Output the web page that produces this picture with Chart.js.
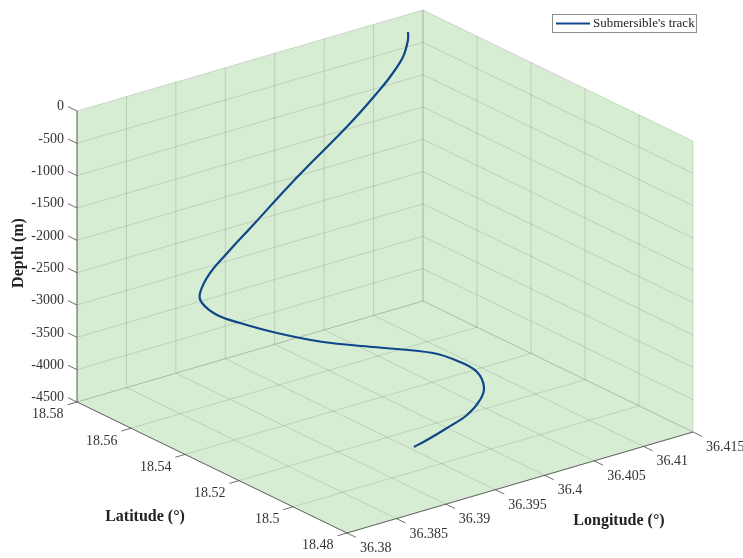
<!DOCTYPE html>
<html lang="en">
<head>
    <meta charset="UTF-8">
    <title>Submersible's track</title>
    <script src="https://cdn.jsdelivr.net/npm/chart.js"></script>
    <style>
        body { margin: 0; background: #fff; }
        #wrap { width: 743px; height: 558px; }
    </style>
</head>
<body>
    <div id="wrap"><canvas id="trackChart" width="743" height="558"></canvas></div>

    <script>
        // axis ticks
        const lonTicks = [36.38, 36.385, 36.39, 36.395, 36.4, 36.405, 36.41, 36.415];
        const latTicks = [18.48, 18.5, 18.52, 18.54, 18.56, 18.58];
        const depthTicks = [0, -500, -1000, -1500, -2000, -2500, -3000, -3500, -4000, -4500];

        // track
        const trackLon = [36.41119, 36.41054, 36.40889, 36.40665, 36.40477, 36.40186, 36.39912, 36.39576,
            36.39295, 36.3889, 36.3857, 36.38295, 36.38083, 36.38016, 36.3805, 36.38211,
            36.38505, 36.3891, 36.39409, 36.40008, 36.40203, 36.40278, 36.40209, 36.40082, 36.39903,
            36.39726, 36.39558, 36.39458];
        const trackLat = [18.5716, 18.56923, 18.56504, 18.56166, 18.55957, 18.5567, 18.55483, 18.55251,
            18.55037, 18.54667, 18.54421, 18.54155, 18.53747, 18.53429, 18.52996, 18.52736,
            18.52441, 18.52222, 18.52198, 18.52168, 18.51882, 18.51525, 18.51015, 18.50698, 18.50522,
            18.50615, 18.50742, 18.50859];
        const trackDepth = [0, -47, -151, -292, -413, -596, -792, -1012, -1199, -1454, -1679, -1858,
            -1990, -2050, -2163, -2306, -2532, -2808, -3103, -3457, -3625, -3741, -3839, -3919, -4035,
            -4176, -4313, -4400];
        const seriesName = "Submersible's track";

        // box limits
        const lonMin = lonTicks[0], lonMax = lonTicks[lonTicks.length - 1];
        const latMin = latTicks[0], latMax = latTicks[latTicks.length - 1];
        const depMin = depthTicks[depthTicks.length - 1], depMax = depthTicks[0];

        // view: front corner + one vector per axis (oblique view, like matlab's 3d box)
        const O = { x: 347, y: 533 };
        const vLon = { x: 346, y: -101 };
        const vLat = { x: -270, y: -131 };
        const vDep = { x: 0, y: -291 };

        function project(lon, lat, dep) {
            const u = (lon - lonMin) / (lonMax - lonMin);
            const v = (lat - latMin) / (latMax - latMin);
            const w = (dep - depMin) / (depMax - depMin);
            return {
                x: O.x + u * vLon.x + v * vLat.x + w * vDep.x,
                y: O.y + u * vLon.y + v * vLat.y + w * vDep.y
            };
        }

        const trackPoints = trackLon.map((lon, i) => project(lon, trackLat[i], trackDepth[i]));

        const WALL = '#d7edd3';
        const GRID = 'rgba(38,38,38,0.15)';
        const AXIS = 'rgba(60,60,60,0.75)';
        const TEXT = '#333';
        const BLUE = '#0f468a';

        function unit(v) {
            const l = Math.hypot(v.x, v.y);
            return { x: v.x / l, y: v.y / l };
        }

        const box3d = {
            id: 'box3d',
            beforeDatasetsDraw(chart) {
                const ctx = chart.ctx;
                const sx = chart.scales.x, sy = chart.scales.y;
                const P = (lon, lat, dep) => {
                    const p = project(lon, lat, dep);
                    return { x: sx.getPixelForValue(p.x), y: sy.getPixelForValue(p.y) };
                };
                const poly = (pts) => {
                    ctx.beginPath();
                    pts.forEach((p, i) => i ? ctx.lineTo(p.x, p.y) : ctx.moveTo(p.x, p.y));
                    ctx.closePath();
                    ctx.fill();
                };
                const line = (a, b) => {
                    ctx.beginPath();
                    ctx.moveTo(a.x, a.y);
                    ctx.lineTo(b.x, b.y);
                    ctx.stroke();
                };

                ctx.save();
                // panes
                ctx.fillStyle = WALL;
                poly([P(lonMin, latMin, depMin), P(lonMax, latMin, depMin), P(lonMax, latMax, depMin), P(lonMin, latMax, depMin)]);
                poly([P(lonMin, latMax, depMin), P(lonMax, latMax, depMin), P(lonMax, latMax, depMax), P(lonMin, latMax, depMax)]);
                poly([P(lonMax, latMin, depMin), P(lonMax, latMax, depMin), P(lonMax, latMax, depMax), P(lonMax, latMin, depMax)]);

                // grid
                ctx.strokeStyle = GRID;
                ctx.lineWidth = 1;
                lonTicks.forEach(t => {
                    line(P(t, latMin, depMin), P(t, latMax, depMin));
                    line(P(t, latMax, depMin), P(t, latMax, depMax));
                });
                latTicks.forEach(t => {
                    line(P(lonMin, t, depMin), P(lonMax, t, depMin));
                    line(P(lonMax, t, depMin), P(lonMax, t, depMax));
                });
                depthTicks.forEach(t => {
                    line(P(lonMin, latMax, t), P(lonMax, latMax, t));
                    line(P(lonMax, latMax, t), P(lonMax, latMin, t));
                });

                // axis lines
                ctx.strokeStyle = AXIS;
                line(P(lonMin, latMax, depMin), P(lonMin, latMax, depMax));
                line(P(lonMin, latMax, depMin), P(lonMin, latMin, depMin));
                line(P(lonMin, latMin, depMin), P(lonMax, latMin, depMin));

                // ticks + labels
                const tl = 10;
                const dLat = unit(vLat);
                const dLonNeg = unit({ x: -vLon.x, y: -vLon.y });
                const dLatNeg = unit({ x: -vLat.x, y: -vLat.y });
                ctx.fillStyle = TEXT;
                ctx.font = '14px "Liberation Serif", "Times New Roman", serif';

                ctx.textAlign = 'right';
                ctx.textBaseline = 'middle';
                depthTicks.forEach(t => {
                    const a = P(lonMin, latMax, t);
                    const b = { x: a.x + dLat.x * tl, y: a.y + dLat.y * tl };
                    line(a, b);
                    ctx.fillText(String(t), b.x - 4, b.y);
                });
                latTicks.forEach(t => {
                    const a = P(lonMin, t, depMin);
                    const b = { x: a.x + dLonNeg.x * tl, y: a.y + dLonNeg.y * tl };
                    line(a, b);
                    ctx.fillText(String(t), b.x - 4, b.y + 10);
                });
                ctx.textAlign = 'left';
                lonTicks.forEach(t => {
                    const a = P(t, latMin, depMin);
                    const b = { x: a.x + dLatNeg.x * tl, y: a.y + dLatNeg.y * tl };
                    line(a, b);
                    ctx.fillText(String(t), b.x + 4, b.y + 11);
                });

                // axis titles
                ctx.font = 'bold 16px "Liberation Serif", "Times New Roman", serif';
                ctx.textAlign = 'center';
                ctx.fillStyle = '#222';
                ctx.fillText('Latitude (°)', 145, 517);
                ctx.fillText('Longitude (°)', 619, 521);
                ctx.save();
                ctx.translate(19, 253);
                ctx.rotate(-Math.PI / 2);
                ctx.fillText('Depth (m)', 0, 0);
                ctx.restore();
                ctx.restore();
            },
            afterDatasetsDraw(chart) {
                const ctx = chart.ctx;
                ctx.save();
                ctx.fillStyle = '#fff';
                ctx.strokeStyle = '#8c8c8c';
                ctx.lineWidth = 1;
                ctx.fillRect(552, 14, 144, 18);
                ctx.strokeRect(552.5, 14.5, 144, 18);
                ctx.strokeStyle = BLUE;
                ctx.lineWidth = 2.2;
                ctx.beginPath();
                ctx.moveTo(556, 23.5);
                ctx.lineTo(590, 23.5);
                ctx.stroke();
                ctx.fillStyle = '#222';
                ctx.font = '13px "Liberation Serif", "Times New Roman", serif';
                ctx.textAlign = 'left';
                ctx.textBaseline = 'middle';
                ctx.fillText(seriesName, 593, 24);
                ctx.restore();
            }
        };

        const chart = new Chart(document.getElementById('trackChart').getContext('2d'), {
            type: 'scatter',
            data: {
                datasets: [{
                    label: seriesName,
                    data: trackPoints,
                    showLine: true,
                    borderColor: BLUE,
                    borderWidth: 2.2,
                    pointRadius: 0,
                    tension: 0.35,
                    fill: false,
                    clip: false
                }]
            },
            options: {
                responsive: false,
                animation: false,
                layout: { padding: 0 },
                plugins: {
                    legend: { display: false },
                    tooltip: { enabled: false }
                },
                scales: {
                    x: { type: 'linear', min: 0, max: 743, display: false },
                    y: { type: 'linear', min: 0, max: 558, reverse: true, display: false }
                }
            },
            plugins: [box3d]
        });
    </script>
</body>
</html>
